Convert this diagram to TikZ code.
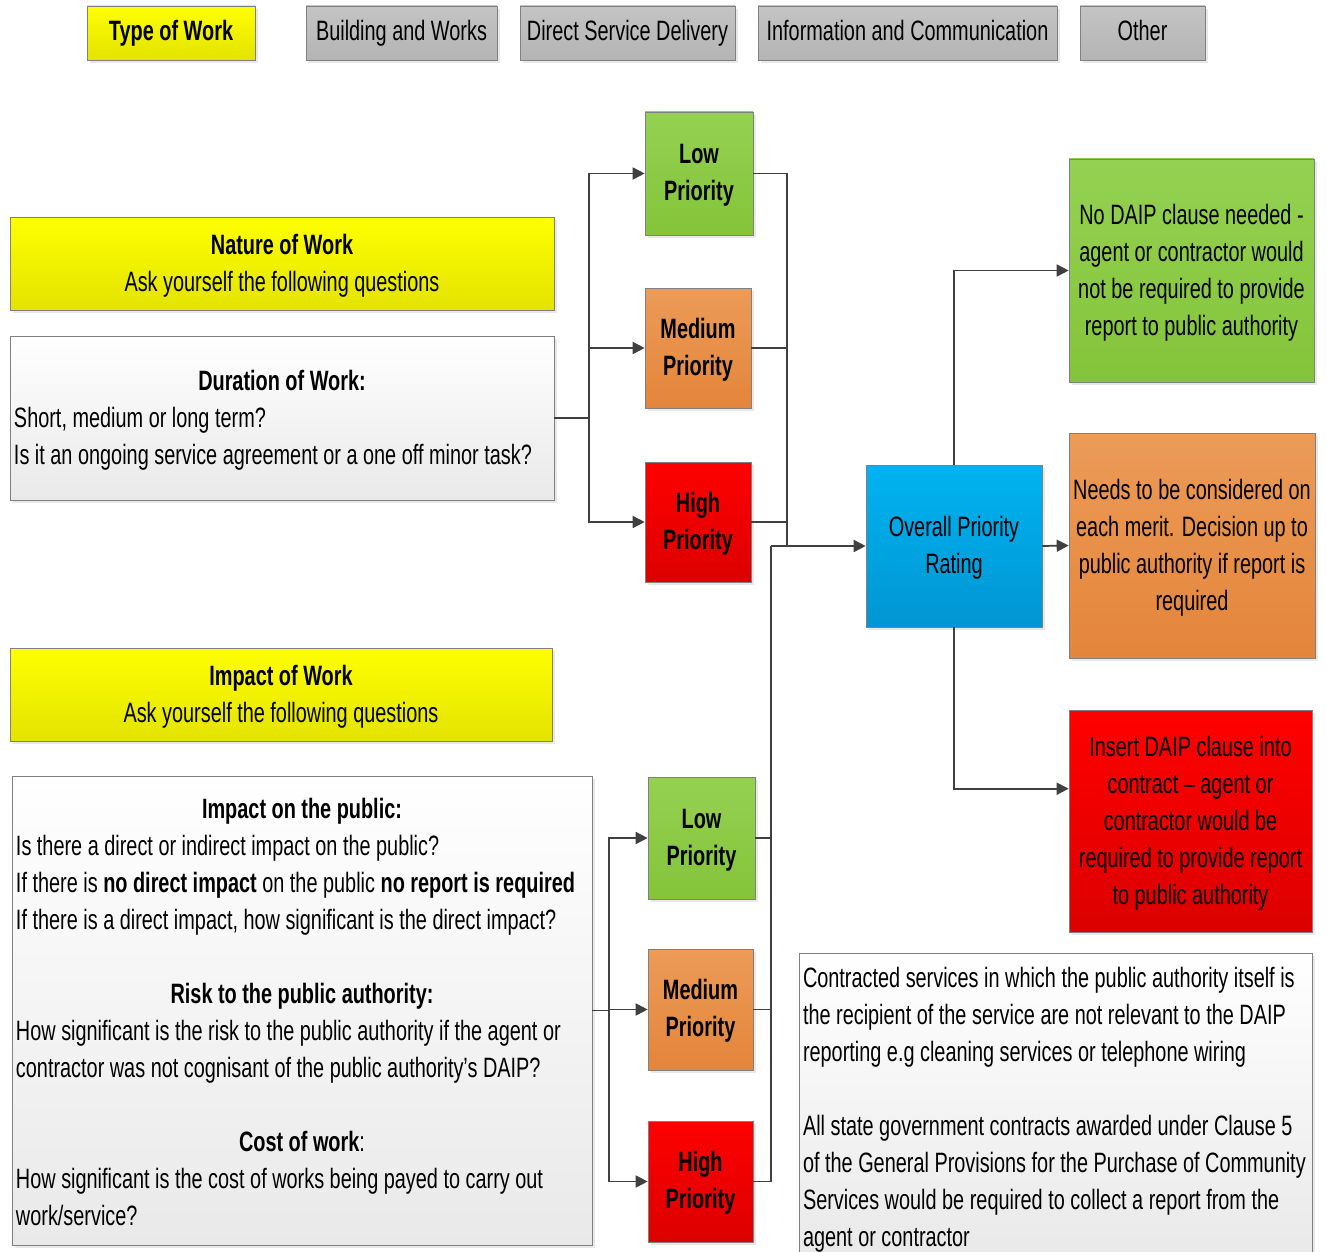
\documentclass[tikz,border=0pt]{standalone}
\usepackage{fontspec}
\setmainfont{Liberation Sans}[FakeStretch=0.71]
\usetikzlibrary{arrows.meta,shadows,calc}
\definecolor{ytop}{HTML}{FFFF00}
\definecolor{ybot}{HTML}{E3E300}
\definecolor{gtop}{HTML}{C4C4C4}
\definecolor{gbot}{HTML}{B4B4B4}
\definecolor{grtop}{HTML}{94D152}
\definecolor{grbot}{HTML}{84C43A}
\definecolor{ortop}{HTML}{EC9B58}
\definecolor{orbot}{HTML}{E4853A}
\definecolor{rdtop}{HTML}{FF0000}
\definecolor{rdbot}{HTML}{DC0000}
\definecolor{bltop}{HTML}{00B3F0}
\definecolor{blbot}{HTML}{0096D3}
\definecolor{wtop}{HTML}{FFFFFF}
\definecolor{wbot}{HTML}{E9E9E9}
\definecolor{bordergray}{HTML}{808080}
\definecolor{wirecol}{HTML}{404040}
\newcommand\fs{\fontsize{21pt}{27.75pt}\selectfont}
\newcommand\placebox[8][]{\node[#3,minimum width={(#6-#4)*0.75pt},minimum height={(#7-#5)*0.75pt},#1] (#2) at ({(#4+#6)/2},{(#5+#7)/2}) {#8};}
\newcommand\ctitle[1]{\makebox[\hsize]{\bfseries #1}}
\newcommand\tup[1]{\vrule height #1 depth 0pt width 0pt}
\tikzset{
  boxbase/.style={draw=bordergray, line width=0.5pt, inner sep=0pt, font=\fs, align=center,
    execute at begin node={\spaceskip=0pt\xspaceskip=0pt\strut},
    execute at end node={\strut},
    drop shadow={shadow xshift=2pt,shadow yshift=-2pt,opacity=0.18}},
  yelbox/.style={boxbase, top color=ytop, bottom color=ybot},
  graybox/.style={boxbase, top color=gtop, bottom color=gbot},
  greenbox/.style={boxbase, top color=grtop, bottom color=grbot},
  orangebox/.style={boxbase, top color=ortop, bottom color=orbot},
  redbox/.style={boxbase, top color=rdtop, bottom color=rdbot},
  bluebox/.style={boxbase, top color=bltop, bottom color=blbot},
  whitebox/.style={boxbase, top color=wtop, bottom color=wbot},
  prio/.style={font=\fs\bfseries},
  wire/.style={draw=wirecol, line width=1.3pt},
  arr/.style={wire, -{Triangle[length=9pt,width=9pt]}},
}
\begin{document}
\begin{tikzpicture}[x=0.75pt,y=-0.75pt]
\useasboundingbox[fill=white] (0,0) rectangle (1327,1252);
% top row
\placebox{tow}{yelbox,prio}{87}{6}{255}{60}{Type of Work}
\placebox{bw}{graybox}{306}{6}{497}{60}{Building and Works}
\placebox{dsd}{graybox}{520}{6}{735}{60}{Direct Service Delivery}
\placebox{ic}{graybox}{758}{6}{1057}{60}{Information and Communication}
\placebox{oth}{graybox}{1080}{6}{1205}{60}{Other}
% nature of work
\placebox{nat}{yelbox}{10}{217}{554}{310}{\tup{23pt}\textbf{Nature of Work}\\Ask yourself the following questions}
\placebox[text width={536*0.75pt},align=left]{dur}{whitebox}{10}{336}{554}{500}{\tup{22.4pt}\ctitle{Duration of Work:}\\\mbox{Short, medium or long term?}\\\mbox{Is it an ongoing service agreement or a one off minor task?}}
% top priorities
\placebox{lowT}{greenbox,prio}{645}{112}{753}{235}{\tup{21.5pt}Low\\Priority}
\placebox{medT}{orangebox,prio}{645}{288}{751}{408}{\tup{21.5pt}Medium\\Priority}
\placebox{highT}{redbox,prio}{645}{462}{751}{582}{\tup{21.5pt}High\\Priority}
% overall
\placebox{ov}{bluebox}{866}{465}{1042}{627}{\tup{22.5pt}Overall Priority\\Rating}
% results
\placebox{resG}{greenbox}{1069}{159}{1314}{382}{\tup{22.5pt}No DAIP clause needed -\\agent or contractor would\\not be required to provide\\report to public authority}
\placebox{resO}{orangebox}{1069}{433}{1315}{658}{\tup{22.5pt}Needs to be considered on\\each merit. Decision up to\\public authority if report is\\required}
\placebox{resR}{redbox}{1069}{710}{1312}{932}{\tup{22.5pt}Insert DAIP clause into\\contract -- agent or\\contractor would be\\required to provide report\\to public authority}
% impact of work
\placebox{impH}{yelbox}{10}{648}{552}{741}{\tup{23pt}\textbf{Impact of Work}\\Ask yourself the following questions}
\placebox[text width={572*0.75pt},align=left]{imp}{whitebox}{12}{776}{592}{1245}{\tup{25.4pt}\ctitle{Impact on the public:}\\
\mbox{Is there a direct or indirect impact on the public?}\\
\mbox{If there is \textbf{no direct impact} on the public \textbf{no report is required}}\\
\mbox{If there is a direct impact, how significant is the direct impact?}\\[27.75pt]
\ctitle{Risk to the public authority:}\\
\mbox{How significant is the risk to the public authority if the agent or}\\
\mbox{contractor was not cognisant of the public authority’s DAIP?}\\[27.75pt]
\makebox[\hsize]{\textbf{Cost of work}:}\\
\mbox{How significant is the cost of works being payed to carry out}\\
\mbox{work/service?}}
% bottom priorities
\placebox{lowB}{greenbox,prio}{648}{777}{755}{899}{\tup{21.5pt}Low\\Priority}
\placebox{medB}{orangebox,prio}{648}{949}{753}{1070}{\tup{21.5pt}Medium\\Priority}
\placebox{highB}{redbox,prio}{648}{1121}{753}{1242}{\tup{21.5pt}High\\Priority}
% note
\placebox[text width={505*0.75pt},align=left]{note}{whitebox}{799}{955}{1312}{1256}{\tup{25.4pt}\mbox{Contracted services in which the public authority itself is}\\
\mbox{the recipient of the service are not relevant to the DAIP}\\
\mbox{reporting e.g cleaning services or telephone wiring}\\[27.75pt]
\mbox{All state government contracts awarded under Clause 5}\\
\mbox{of the General Provisions for the Purchase of Community}\\
\mbox{Services would be required to collect a report from the}\\
\mbox{agent or contractor}}
% bus coordinates
\coordinate (xTL) at (589,0);
\coordinate (xR) at (787,0);
\coordinate (xB) at (771,0);
\coordinate (xBL) at (609,0);
\coordinate (rIn) at ($(resR.north west)!0.355!(resR.south west)$);
% top connectors
\draw[wire] (dur.east) -- (xTL |- dur.east);
\draw[arr] (xTL |- dur.east) |- (lowT.west);
\draw[arr] (xTL |- dur.east) |- (medT.west);
\draw[arr] (xTL |- dur.east) |- (highT.west);
\draw[wire] (lowT.east) -| (xR |- ov.west);
\draw[wire] (medT.east) -- (xR |- medT.east);
\draw[wire] (highT.east) -- (xR |- highT.east);
% bottom connectors
\draw[wire] (imp.east) -- (xBL |- imp.east);
\draw[arr] (xBL |- imp.east) |- (lowB.west);
\draw[arr] (xBL |- imp.east) |- (medB.west);
\draw[arr] (xBL |- imp.east) |- (highB.west);
\draw[wire] (highB.east) -| (xB |- ov.west);
\draw[wire] (lowB.east) -- (xB |- lowB.east);
\draw[wire] (medB.east) -- (xB |- medB.east);
\draw[arr] (xB |- ov.west) -- (ov.west);
% outputs
\draw[arr] (ov.north) |- (resG.west);
\draw[arr] (ov.east) -- (resO.west);
\draw[arr] (ov.south) |- (rIn);
\end{tikzpicture}
\end{document}
